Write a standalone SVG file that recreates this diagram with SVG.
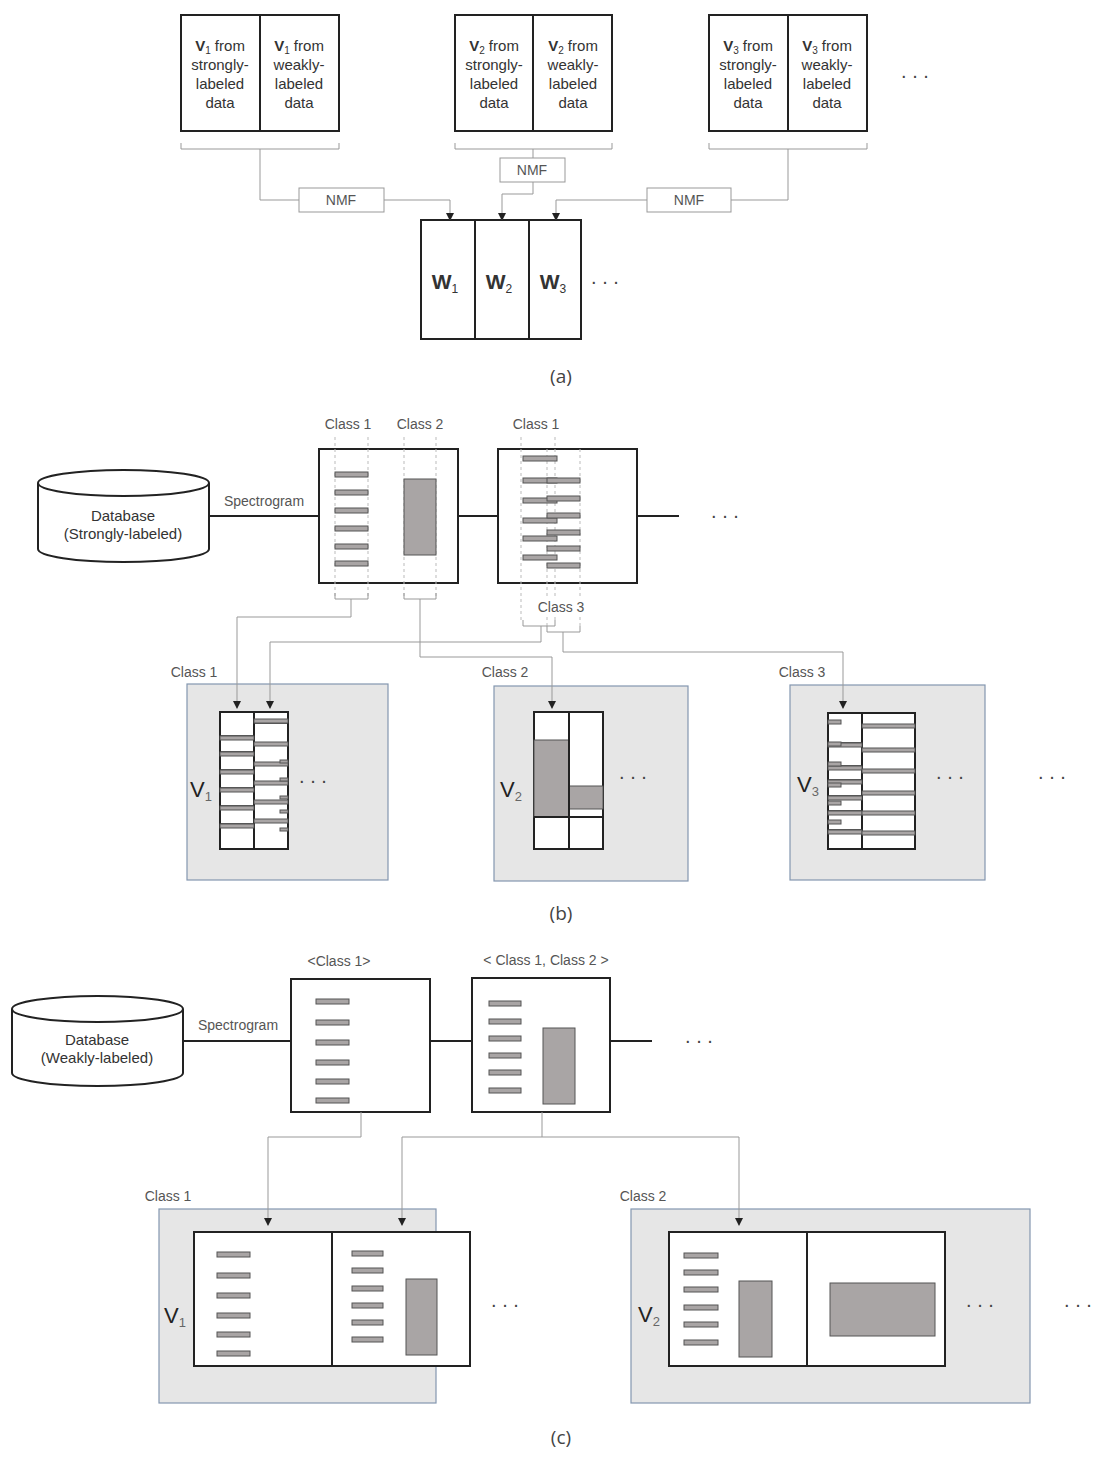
<svg xmlns="http://www.w3.org/2000/svg" width="1101" height="1458" viewBox="0 0 1101 1458">
<defs>
<marker id="ar" markerWidth="8" markerHeight="8" refX="7" refY="4" orient="auto" markerUnits="userSpaceOnUse"><path d="M0,0 L8,4 L0,8 z" fill="#222"/></marker>
</defs>
<style>
text{font-family:"Liberation Sans",Arial,sans-serif;fill:#333}
.t{font-size:15px;text-anchor:middle}
.l{font-size:14px;fill:#555;text-anchor:middle}
.cap{font-family:"Open Sans","Liberation Sans",sans-serif;font-size:19px;fill:#444;text-anchor:middle}
.big{font-size:21px;font-weight:bold;text-anchor:middle}
.pv{font-size:22px;text-anchor:middle;fill:#222}
.box{fill:#fff;stroke:#222;stroke-width:2}
.thin{fill:none;stroke:#999;stroke-width:1}
.con{fill:none;stroke:#999;stroke-width:1}
.arr{fill:none;stroke:#999;stroke-width:1;marker-end:url(#ar)}
.line{stroke:#222;stroke-width:2}
.bar{fill:#a9a5a5;stroke:#555;stroke-width:1}
.dash{stroke:#bbb;stroke-width:1;stroke-dasharray:3,3}
.panel{fill:#e6e6e6;stroke:#8497b0;stroke-width:1.2}
.dots{font-size:20px;fill:#444;text-anchor:middle}
</style>

<!-- (a) -->
<g id="v1a"><rect class="box" x="181" y="15" width="158" height="116"/><line class="line" x1="260" y1="15" x2="260" y2="131"/>
<text class="t" x="220" y="51"><tspan font-weight="bold">V</tspan><tspan font-size="10" dy="3">1</tspan><tspan dy="-3"> from</tspan></text><text class="t" x="220" y="70">strongly-</text><text class="t" x="220" y="89">labeled</text><text class="t" x="220" y="108">data</text>
<text class="t" x="299" y="51"><tspan font-weight="bold">V</tspan><tspan font-size="10" dy="3">1</tspan><tspan dy="-3"> from</tspan></text><text class="t" x="299" y="70">weakly-</text><text class="t" x="299" y="89">labeled</text><text class="t" x="299" y="108">data</text></g>
<g id="v2a"><rect class="box" x="455" y="15" width="157" height="116"/><line class="line" x1="533" y1="15" x2="533" y2="131"/>
<text class="t" x="494" y="51"><tspan font-weight="bold">V</tspan><tspan font-size="10" dy="3">2</tspan><tspan dy="-3"> from</tspan></text><text class="t" x="494" y="70">strongly-</text><text class="t" x="494" y="89">labeled</text><text class="t" x="494" y="108">data</text>
<text class="t" x="573" y="51"><tspan font-weight="bold">V</tspan><tspan font-size="10" dy="3">2</tspan><tspan dy="-3"> from</tspan></text><text class="t" x="573" y="70">weakly-</text><text class="t" x="573" y="89">labeled</text><text class="t" x="573" y="108">data</text></g>
<g id="v3a"><rect class="box" x="709" y="15" width="158" height="116"/><line class="line" x1="788" y1="15" x2="788" y2="131"/>
<text class="t" x="748" y="51"><tspan font-weight="bold">V</tspan><tspan font-size="10" dy="3">3</tspan><tspan dy="-3"> from</tspan></text><text class="t" x="748" y="70">strongly-</text><text class="t" x="748" y="89">labeled</text><text class="t" x="748" y="108">data</text>
<text class="t" x="827" y="51"><tspan font-weight="bold">V</tspan><tspan font-size="10" dy="3">3</tspan><tspan dy="-3"> from</tspan></text><text class="t" x="827" y="70">weakly-</text><text class="t" x="827" y="89">labeled</text><text class="t" x="827" y="108">data</text></g>
<text class="dots" x="915" y="78">. . .</text>
<g id="nmf1"><rect class="thin" x="299" y="188" width="85" height="24" fill="#fff"/><text class="l" x="341" y="205" font-size="13">NMF</text></g>
<g id="nmf2"><rect class="thin" x="500" y="158" width="65" height="24" fill="#fff"/><text class="l" x="532" y="175" font-size="13">NMF</text></g>
<g id="nmf3"><rect class="thin" x="647" y="188" width="84" height="24" fill="#fff"/><text class="l" x="689" y="205" font-size="13">NMF</text></g>
<g id="wa"><rect class="box" x="421" y="220" width="160" height="119"/><line class="line" x1="475" y1="220" x2="475" y2="339"/><line class="line" x1="529" y1="220" x2="529" y2="339"/>
<text class="big" x="445" y="289">W<tspan font-size="12" font-weight="normal" dy="4">1</tspan></text>
<text class="big" x="499" y="289">W<tspan font-size="12" font-weight="normal" dy="4">2</tspan></text>
<text class="big" x="553" y="289">W<tspan font-size="12" font-weight="normal" dy="4">3</tspan></text></g>
<text class="dots" x="605" y="284">. . .</text>
<text class="cap" x="561" y="383">(a)</text>

<!-- (b) -->
<g id="dbs"><path d="M38,483 L38,549 A85.5,13 0 0 0 209,549 L209,483" fill="#fff" stroke="#222" stroke-width="2"/><ellipse cx="123.5" cy="483" rx="85.5" ry="13" fill="#fff" stroke="#222" stroke-width="2"/>
<text class="t" x="123" y="521" fill="#444">Database</text><text class="t" x="123" y="539" fill="#444">(Strongly-labeled)</text></g>
<text class="l" x="264" y="506">Spectrogram</text>
<g id="spb1"><rect class="box" x="319" y="449" width="139" height="134"/>
<line class="dash" x1="335" y1="437" x2="335" y2="596"/><line class="dash" x1="368" y1="437" x2="368" y2="596"/><line class="dash" x1="404" y1="437" x2="404" y2="596"/><line class="dash" x1="436" y1="437" x2="436" y2="596"/>
<rect class="bar" x="335" y="472" width="33" height="5"/><rect class="bar" x="335" y="490" width="33" height="5"/><rect class="bar" x="335" y="508" width="33" height="5"/><rect class="bar" x="335" y="526" width="33" height="5"/><rect class="bar" x="335" y="544" width="33" height="5"/><rect class="bar" x="335" y="561" width="33" height="5"/>
<rect class="bar" x="404" y="479" width="32" height="76"/></g>
<g id="spb2"><rect class="box" x="498" y="449" width="139" height="134"/>
<line class="dash" x1="521" y1="437" x2="521" y2="620"/><line class="dash" x1="555" y1="437" x2="555" y2="620"/><line class="dash" x1="547" y1="449" x2="547" y2="626"/><line class="dash" x1="580" y1="449" x2="580" y2="626"/>
<rect class="bar" x="523" y="456" width="34" height="5"/><rect class="bar" x="523" y="478" width="34" height="5"/><rect class="bar" x="523" y="498" width="34" height="5"/><rect class="bar" x="523" y="518" width="34" height="5"/><rect class="bar" x="523" y="536" width="34" height="5"/><rect class="bar" x="523" y="555" width="34" height="5"/>
<rect class="bar" x="547" y="478" width="33" height="5"/><rect class="bar" x="547" y="496" width="33" height="5"/><rect class="bar" x="547" y="513" width="33" height="5"/><rect class="bar" x="547" y="530" width="33" height="5"/><rect class="bar" x="547" y="546" width="33" height="5"/><rect class="bar" x="547" y="563" width="33" height="5"/></g>
<text class="l" x="348" y="429">Class 1</text><text class="l" x="420" y="429">Class 2</text><text class="l" x="536" y="429">Class 1</text>
<rect x="536" y="598" width="50" height="16" fill="#fff"/><text class="l" x="561" y="612">Class 3</text>
<text class="dots" x="725" y="518">. . .</text>

<g id="p1b"><rect class="panel" x="187" y="684" width="201" height="196"/><text class="l" x="194" y="677">Class 1</text>
<rect class="box" x="220" y="712" width="68" height="137"/><line class="line" x1="254" y1="712" x2="254" y2="849"/>
<g stroke="#222" stroke-width="1.5"><line x1="220" y1="736" x2="254" y2="736"/><line x1="220" y1="752" x2="254" y2="752"/><line x1="220" y1="770" x2="254" y2="770"/><line x1="220" y1="788" x2="254" y2="788"/><line x1="220" y1="806" x2="254" y2="806"/><line x1="220" y1="824" x2="254" y2="824"/>
<line x1="254" y1="723" x2="288" y2="723"/><line x1="254" y1="743" x2="288" y2="743"/><line x1="254" y1="763" x2="288" y2="763"/><line x1="254" y1="782" x2="288" y2="782"/><line x1="254" y1="801" x2="288" y2="801"/><line x1="254" y1="820" x2="288" y2="820"/></g>
<rect class="bar" x="220" y="736" width="34" height="4"/><rect class="bar" x="220" y="752" width="34" height="4"/><rect class="bar" x="220" y="770" width="34" height="4"/><rect class="bar" x="220" y="788" width="34" height="4"/><rect class="bar" x="220" y="806" width="34" height="4"/><rect class="bar" x="220" y="824" width="34" height="4"/>
<rect class="bar" x="254" y="719" width="34" height="4"/><rect class="bar" x="254" y="742" width="34" height="4"/><rect class="bar" x="254" y="762" width="34" height="4"/><rect class="bar" x="254" y="781" width="34" height="4"/><rect class="bar" x="254" y="800" width="34" height="4"/><rect class="bar" x="254" y="819" width="34" height="4"/>
<rect class="bar" x="280" y="760" width="8" height="3"/><rect class="bar" x="280" y="778" width="8" height="3"/><rect class="bar" x="280" y="796" width="8" height="3"/><rect class="bar" x="280" y="810" width="8" height="3"/><rect class="bar" x="280" y="828" width="8" height="3"/>
<text class="pv" x="201" y="797">V<tspan font-size="13" fill="#666" dy="4">1</tspan></text></g>
<text class="dots" x="313" y="783">. . .</text>

<g id="p2b"><rect class="panel" x="494" y="686" width="194" height="195"/><text class="l" x="505" y="677">Class 2</text>
<rect class="box" x="534" y="712" width="69" height="137"/>
<rect class="bar" x="534" y="740" width="35" height="77"/><rect class="bar" x="569" y="786" width="34" height="23"/>
<line class="line" x1="534" y1="817" x2="603" y2="817"/><line class="line" x1="569" y1="712" x2="569" y2="849"/>
<text class="pv" x="511" y="797">V<tspan font-size="13" fill="#666" dy="4">2</tspan></text></g>
<text class="dots" x="633" y="779">. . .</text>

<g id="p3b"><rect class="panel" x="790" y="685" width="195" height="195"/><text class="l" x="802" y="677">Class 3</text>
<rect class="box" x="828" y="713" width="87" height="136"/><line class="line" x1="862" y1="713" x2="862" y2="849"/>
<g stroke="#222" stroke-width="1.5"><line x1="828" y1="743" x2="862" y2="743"/><line x1="828" y1="766" x2="862" y2="766"/><line x1="828" y1="780" x2="862" y2="780"/><line x1="828" y1="796" x2="862" y2="796"/><line x1="828" y1="811" x2="862" y2="811"/><line x1="828" y1="830" x2="862" y2="830"/>
<line x1="862" y1="726" x2="915" y2="726"/><line x1="862" y1="750" x2="915" y2="750"/><line x1="862" y1="771" x2="915" y2="771"/><line x1="862" y1="793" x2="915" y2="793"/><line x1="862" y1="813" x2="915" y2="813"/><line x1="862" y1="833" x2="915" y2="833"/></g>
<rect class="bar" x="828" y="743" width="34" height="4"/><rect class="bar" x="828" y="766" width="34" height="4"/><rect class="bar" x="828" y="780" width="34" height="4"/><rect class="bar" x="828" y="796" width="34" height="4"/><rect class="bar" x="828" y="811" width="34" height="4"/><rect class="bar" x="828" y="830" width="34" height="4"/>
<rect class="bar" x="828" y="720" width="13" height="4"/><rect class="bar" x="828" y="742" width="13" height="4"/><rect class="bar" x="828" y="762" width="13" height="4"/><rect class="bar" x="828" y="783" width="13" height="4"/><rect class="bar" x="828" y="801" width="13" height="4"/><rect class="bar" x="828" y="820" width="13" height="4"/>
<rect class="bar" x="862" y="724" width="53" height="4"/><rect class="bar" x="862" y="748" width="53" height="4"/><rect class="bar" x="862" y="769" width="53" height="4"/><rect class="bar" x="862" y="791" width="53" height="4"/><rect class="bar" x="862" y="811" width="53" height="4"/><rect class="bar" x="862" y="831" width="53" height="4"/>
<text class="pv" x="808" y="792">V<tspan font-size="13" fill="#666" dy="4">3</tspan></text></g>
<text class="dots" x="950" y="779">. . .</text>
<text class="dots" x="1052" y="779">. . .</text>
<text class="cap" x="561" y="920">(b)</text>

<!-- (c) -->
<g id="dbw"><path d="M12,1009 L12,1073 A85.5,13 0 0 0 183,1073 L183,1009" fill="#fff" stroke="#222" stroke-width="2"/><ellipse cx="97.5" cy="1009" rx="85.5" ry="13" fill="#fff" stroke="#222" stroke-width="2"/>
<text class="t" x="97" y="1045" fill="#444">Database</text><text class="t" x="97" y="1063" fill="#444">(Weakly-labeled)</text></g>
<text class="l" x="238" y="1030">Spectrogram</text>
<g id="spc1"><rect class="box" x="291" y="979" width="139" height="133"/>
<rect class="bar" x="316" y="999" width="33" height="5"/><rect class="bar" x="316" y="1020" width="33" height="5"/><rect class="bar" x="316" y="1040" width="33" height="5"/><rect class="bar" x="316" y="1060" width="33" height="5"/><rect class="bar" x="316" y="1079" width="33" height="5"/><rect class="bar" x="316" y="1098" width="33" height="5"/></g>
<g id="spc2"><rect class="box" x="472" y="978" width="138" height="134"/>
<rect class="bar" x="489" y="1001" width="32" height="5"/><rect class="bar" x="489" y="1019" width="32" height="5"/><rect class="bar" x="489" y="1036" width="32" height="5"/><rect class="bar" x="489" y="1053" width="32" height="5"/><rect class="bar" x="489" y="1070" width="32" height="5"/><rect class="bar" x="489" y="1088" width="32" height="5"/>
<rect class="bar" x="543" y="1028" width="32" height="76"/></g>
<text class="l" x="339" y="966">&lt;Class 1&gt;</text><text class="l" x="546" y="965">&lt; Class 1, Class 2 &gt;</text>
<text class="dots" x="699" y="1043">. . .</text>

<g id="p1c"><rect class="panel" x="159" y="1209" width="277" height="194"/><text class="l" x="168" y="1201">Class 1</text>
<rect class="box" x="194" y="1232" width="276" height="134"/><line class="line" x1="332" y1="1232" x2="332" y2="1366"/>
<rect class="bar" x="217" y="1252" width="33" height="5"/><rect class="bar" x="217" y="1273" width="33" height="5"/><rect class="bar" x="217" y="1293" width="33" height="5"/><rect class="bar" x="217" y="1313" width="33" height="5"/><rect class="bar" x="217" y="1332" width="33" height="5"/><rect class="bar" x="217" y="1351" width="33" height="5"/>
<rect class="bar" x="352" y="1251" width="31" height="5"/><rect class="bar" x="352" y="1268" width="31" height="5"/><rect class="bar" x="352" y="1286" width="31" height="5"/><rect class="bar" x="352" y="1303" width="31" height="5"/><rect class="bar" x="352" y="1320" width="31" height="5"/><rect class="bar" x="352" y="1337" width="31" height="5"/>
<rect class="bar" x="406" y="1279" width="31" height="76"/>
<text class="pv" x="175" y="1323">V<tspan font-size="13" fill="#666" dy="4">1</tspan></text></g>
<text class="dots" x="505" y="1307">. . .</text>
<g id="p2c"><rect class="panel" x="631" y="1209" width="399" height="194"/><text class="l" x="643" y="1201">Class 2</text>
<rect class="box" x="669" y="1232" width="276" height="134"/><line class="line" x1="807" y1="1232" x2="807" y2="1366"/>
<rect class="bar" x="684" y="1253" width="34" height="5"/><rect class="bar" x="684" y="1270" width="34" height="5"/><rect class="bar" x="684" y="1287" width="34" height="5"/><rect class="bar" x="684" y="1305" width="34" height="5"/><rect class="bar" x="684" y="1322" width="34" height="5"/><rect class="bar" x="684" y="1340" width="34" height="5"/>
<rect class="bar" x="739" y="1281" width="33" height="76"/><rect class="bar" x="830" y="1283" width="105" height="53"/>
<text class="pv" x="649" y="1322">V<tspan font-size="13" fill="#666" dy="4">2</tspan></text></g>
<text class="dots" x="980" y="1307">. . .</text>
<text class="dots" x="1078" y="1307">. . .</text>
<text class="cap" x="561" y="1444">(c)</text>

<g id="connectors">
<path class="con" d="M181,143 L181,149 L339,149 L339,143 M260,149 L260,200 L299,200"/>
<path class="arr" d="M384,200 L450,200 L450,220"/>
<path class="con" d="M455,143 L455,149 L612,149 L612,143 M533,149 L533,158"/>
<path class="arr" d="M533,182 L533,194 L502,194 L502,220"/>
<path class="con" d="M709,143 L709,149 L867,149 L867,143 M788,149 L788,200 L731,200"/>
<path class="arr" d="M647,200 L556,200 L556,220"/>
<line class="line" x1="209" y1="516" x2="319" y2="516"/><line class="line" x1="458" y1="516" x2="498" y2="516"/><line class="line" x1="637" y1="516" x2="679" y2="516"/>
<path class="con" d="M335,593 L335,599 L368,599 L368,593 M404,593 L404,599 L436,599 L436,593 M523,620 L523,626 L555,626 L555,620 M547,626 L547,632 L580,632 L580,626"/>
<path class="arr" d="M351,599 L351,617 L237,617 L237,708"/>
<path class="arr" d="M420,599 L420,657 L552,657 L552,708"/>
<path class="arr" d="M541,626 L541,642 L270,642 L270,708"/>
<path class="arr" d="M563,632 L563,652 L843,652 L843,708"/>
<line class="line" x1="183" y1="1041" x2="291" y2="1041"/><line class="line" x1="430" y1="1041" x2="472" y2="1041"/><line class="line" x1="610" y1="1041" x2="652" y2="1041"/>
<path class="arr" d="M361,1112 L361,1137 L268,1137 L268,1225"/>
<path class="con" d="M542,1112 L542,1137 M402,1137 L739,1137"/>
<path class="arr" d="M402,1137 L402,1225"/>
<path class="arr" d="M739,1137 L739,1225"/>
</g>
</svg>
